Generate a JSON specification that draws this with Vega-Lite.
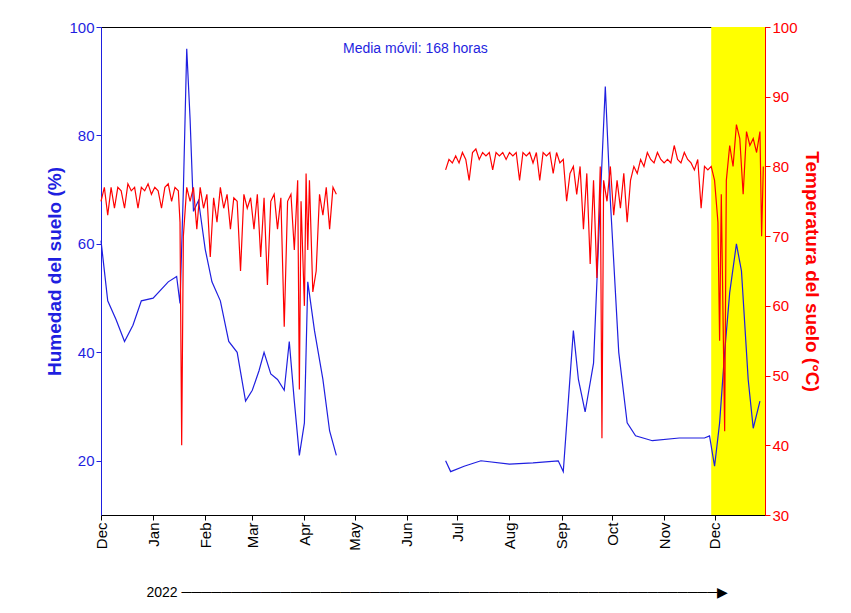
{
"$schema":"https://vega.github.io/schema/vega-lite/v6.json",
"width":664,"height":488,
"autosize":{"type":"none"},
"padding":{"left":101,"top":27,"right":86,"bottom":98},
"config":{"font":"Liberation Sans","view":{"stroke":"#000"},"axis":{"grid":false,"labelFontSize":15,"titleFontSize":19,"titleFontWeight":"bold"}},
"datasets":{
"hum":[
{"d":"2021-12-01","v":60.6},{"d":"2021-12-05","v":49.5},{"d":"2021-12-10","v":46},{"d":"2021-12-15","v":42},{"d":"2021-12-20","v":45},{"d":"2021-12-25","v":49.5},{"d":"2022-01-01","v":50},{"d":"2022-01-10","v":53},{"d":"2022-01-15","v":54},{"d":"2022-01-17","v":49},{"d":"2022-01-19","v":70},{"d":"2022-01-21","v":96},{"d":"2022-01-23","v":83},{"d":"2022-01-25","v":66},{"d":"2022-01-28","v":68},{"d":"2022-02-01","v":59},{"d":"2022-02-05","v":53},{"d":"2022-02-10","v":49.5},{"d":"2022-02-15","v":42},{"d":"2022-02-20","v":40},{"d":"2022-02-25","v":31},{"d":"2022-03-01","v":33},{"d":"2022-03-05","v":36.6},{"d":"2022-03-08","v":40},{"d":"2022-03-12","v":36},{"d":"2022-03-16","v":35},{"d":"2022-03-20","v":33},{"d":"2022-03-23","v":42},{"d":"2022-03-26","v":31},{"d":"2022-03-29","v":21},{"d":"2022-04-01","v":27},{"d":"2022-04-03","v":53},{"d":"2022-04-07","v":44},{"d":"2022-04-12","v":35},{"d":"2022-04-16","v":25.5},{"d":"2022-04-20","v":21},
{"d":"2022-05-20","v":null},
{"d":"2022-06-24","v":20},{"d":"2022-06-27","v":18},{"d":"2022-07-05","v":19},{"d":"2022-07-15","v":20},{"d":"2022-08-01","v":19.4},{"d":"2022-08-15","v":19.6},{"d":"2022-08-30","v":20},{"d":"2022-09-02","v":18},{"d":"2022-09-05","v":31},{"d":"2022-09-08","v":44},{"d":"2022-09-11","v":35},{"d":"2022-09-15","v":29},{"d":"2022-09-20","v":38},{"d":"2022-09-24","v":68},{"d":"2022-09-27","v":89},{"d":"2022-09-30","v":68},{"d":"2022-10-05","v":40},{"d":"2022-10-10","v":27},{"d":"2022-10-15","v":24.6},{"d":"2022-10-25","v":23.7},{"d":"2022-11-10","v":24.2},{"d":"2022-11-25","v":24.2},{"d":"2022-11-28","v":24.6},{"d":"2022-12-01","v":19},{"d":"2022-12-04","v":27},{"d":"2022-12-07","v":40},{"d":"2022-12-10","v":51},{"d":"2022-12-14","v":60},{"d":"2022-12-17","v":55},{"d":"2022-12-21","v":35},{"d":"2022-12-24","v":26},{"d":"2022-12-28","v":31}
],
"temp":[
{"d":"2021-12-01","t":75},{"d":"2021-12-03","t":77},{"d":"2021-12-05","t":73},{"d":"2021-12-07","t":77},{"d":"2021-12-09","t":74},{"d":"2021-12-11","t":77},{"d":"2021-12-13","t":76.5},{"d":"2021-12-15","t":74},{"d":"2021-12-17","t":77.5},{"d":"2021-12-19","t":76.5},{"d":"2021-12-21","t":77},{"d":"2021-12-23","t":74},{"d":"2021-12-25","t":77},{"d":"2021-12-27","t":76.5},{"d":"2021-12-29","t":77.5},{"d":"2021-12-31","t":76},{"d":"2022-01-02","t":77},{"d":"2022-01-04","t":76.5},{"d":"2022-01-06","t":74},{"d":"2022-01-08","t":77},{"d":"2022-01-10","t":77.5},{"d":"2022-01-12","t":75},{"d":"2022-01-14","t":77},{"d":"2022-01-16","t":76.5},{"d":"2022-01-17","t":72},{"d":"2022-01-18","t":40},{"d":"2022-01-19","t":70},{"d":"2022-01-21","t":77},{"d":"2022-01-23","t":75},{"d":"2022-01-25","t":77},{"d":"2022-01-27","t":71},{"d":"2022-01-29","t":77},{"d":"2022-01-31","t":74},{"d":"2022-02-02","t":76},{"d":"2022-02-04","t":67},{"d":"2022-02-06","t":75.5},{"d":"2022-02-08","t":72},{"d":"2022-02-10","t":77},{"d":"2022-02-12","t":74},{"d":"2022-02-14","t":76},{"d":"2022-02-16","t":71},{"d":"2022-02-18","t":75.5},{"d":"2022-02-20","t":75},{"d":"2022-02-22","t":65},{"d":"2022-02-24","t":76},{"d":"2022-02-26","t":74},{"d":"2022-02-28","t":75.5},{"d":"2022-03-02","t":71},{"d":"2022-03-04","t":76},{"d":"2022-03-06","t":67},{"d":"2022-03-08","t":75.5},{"d":"2022-03-10","t":63},{"d":"2022-03-12","t":75},{"d":"2022-03-14","t":76},{"d":"2022-03-16","t":71},{"d":"2022-03-18","t":75.5},{"d":"2022-03-20","t":57},{"d":"2022-03-22","t":75},{"d":"2022-03-24","t":76},{"d":"2022-03-26","t":68},{"d":"2022-03-28","t":78},{"d":"2022-03-29","t":48},{"d":"2022-03-30","t":75},{"d":"2022-04-01","t":60},{"d":"2022-04-02","t":79},{"d":"2022-04-03","t":68},{"d":"2022-04-04","t":78},{"d":"2022-04-06","t":62},{"d":"2022-04-08","t":65},{"d":"2022-04-10","t":76},{"d":"2022-04-12","t":73},{"d":"2022-04-14","t":77},{"d":"2022-04-16","t":71},{"d":"2022-04-18","t":77},{"d":"2022-04-20","t":76},
{"d":"2022-05-20","t":null},
{"d":"2022-06-24","t":79.5},{"d":"2022-06-26","t":81},{"d":"2022-06-28","t":80.5},{"d":"2022-06-30","t":81.5},{"d":"2022-07-02","t":80.5},{"d":"2022-07-04","t":82},{"d":"2022-07-06","t":81},{"d":"2022-07-08","t":78},{"d":"2022-07-10","t":82},{"d":"2022-07-12","t":82.5},{"d":"2022-07-14","t":81},{"d":"2022-07-16","t":82},{"d":"2022-07-18","t":81.5},{"d":"2022-07-20","t":82},{"d":"2022-07-22","t":79.5},{"d":"2022-07-24","t":82},{"d":"2022-07-26","t":81.5},{"d":"2022-07-28","t":82},{"d":"2022-07-30","t":81},{"d":"2022-08-01","t":82},{"d":"2022-08-03","t":81.5},{"d":"2022-08-05","t":82},{"d":"2022-08-07","t":78},{"d":"2022-08-09","t":82},{"d":"2022-08-11","t":81.5},{"d":"2022-08-13","t":82},{"d":"2022-08-15","t":80.5},{"d":"2022-08-17","t":82},{"d":"2022-08-19","t":78},{"d":"2022-08-21","t":82},{"d":"2022-08-23","t":81.5},{"d":"2022-08-25","t":82},{"d":"2022-08-27","t":79},{"d":"2022-08-29","t":82},{"d":"2022-08-31","t":80.5},{"d":"2022-09-02","t":81},{"d":"2022-09-04","t":75},{"d":"2022-09-06","t":79},{"d":"2022-09-08","t":80},{"d":"2022-09-10","t":76},{"d":"2022-09-12","t":80},{"d":"2022-09-14","t":71},{"d":"2022-09-16","t":79},{"d":"2022-09-18","t":66},{"d":"2022-09-20","t":78},{"d":"2022-09-22","t":64},{"d":"2022-09-24","t":80},{"d":"2022-09-25","t":41},{"d":"2022-09-26","t":78},{"d":"2022-09-28","t":75},{"d":"2022-09-30","t":80},{"d":"2022-10-02","t":73},{"d":"2022-10-04","t":78},{"d":"2022-10-06","t":74},{"d":"2022-10-08","t":79},{"d":"2022-10-10","t":72},{"d":"2022-10-12","t":78},{"d":"2022-10-14","t":80},{"d":"2022-10-16","t":79},{"d":"2022-10-18","t":81},{"d":"2022-10-20","t":80},{"d":"2022-10-22","t":82},{"d":"2022-10-24","t":81},{"d":"2022-10-26","t":80.5},{"d":"2022-10-28","t":82},{"d":"2022-10-30","t":81},{"d":"2022-11-01","t":80.5},{"d":"2022-11-03","t":81},{"d":"2022-11-05","t":80.5},{"d":"2022-11-07","t":83},{"d":"2022-11-09","t":81},{"d":"2022-11-11","t":80.5},{"d":"2022-11-13","t":82},{"d":"2022-11-15","t":81},{"d":"2022-11-17","t":80.5},{"d":"2022-11-19","t":79.5},{"d":"2022-11-21","t":81},{"d":"2022-11-23","t":74},{"d":"2022-11-25","t":80},{"d":"2022-11-27","t":79.5},{"d":"2022-11-29","t":80},{"d":"2022-12-01","t":78},{"d":"2022-12-03","t":72},{"d":"2022-12-04","t":55},{"d":"2022-12-05","t":76},{"d":"2022-12-07","t":42},{"d":"2022-12-08","t":78},{"d":"2022-12-10","t":83},{"d":"2022-12-12","t":80},{"d":"2022-12-14","t":86},{"d":"2022-12-16","t":84},{"d":"2022-12-18","t":76},{"d":"2022-12-20","t":85},{"d":"2022-12-22","t":83},{"d":"2022-12-24","t":84},{"d":"2022-12-26","t":82},{"d":"2022-12-28","t":85},{"d":"2022-12-29","t":70},{"d":"2022-12-30","t":80}
],
"band":[{"a":"2022-11-29","b":"2022-12-31"}]
},
"resolve":{"scale":{"y":"independent"}},
"layer":[
{"data":{"name":"band"},"mark":{"type":"rect","color":"#ffff00"},
 "encoding":{"x":{"field":"a","type":"temporal","scale":{"type":"utc","domain":["2021-12-01","2022-12-31"]},
   "axis":{"values":["2021-12-01","2022-01-01","2022-02-01","2022-03-01","2022-04-01","2022-05-01","2022-06-01","2022-07-01","2022-08-01","2022-09-01","2022-10-01","2022-11-01","2022-12-01"],"labelExpr":"utcFormat(datum.value,'%b')","labelAngle":-90,"labelAlign":"right","labelBaseline":"middle","labelColor":"#000","domainColor":"#000","tickColor":"#000","title":"2022 ──────────────────────────────────────────────────────▶","titleFontWeight":"normal","titleFontSize":14,"titleAnchor":"start","titleX":45,"titleY":70}},
  "x2":{"field":"b"}}},
{"layer":[
 {"data":{"name":"hum"},"mark":{"type":"line","color":"#1f1fe0","strokeWidth":1.2,"invalid":"break-paths-show-domains"},
  "encoding":{"x":{"field":"d","type":"temporal"},
   "y":{"field":"v","type":"quantitative","scale":{"domain":[10,100]},"axis":{"values":[20,40,60,80,100],"title":"Humedad del suelo (%)","titleColor":"#1f1fe0","labelColor":"#1f1fe0","domainColor":"#1f1fe0","tickColor":"#1f1fe0"}}}},
 {"data":{"values":[{"d":"2022-06-06","y":96,"s":"Media móvil: 168 horas"}]},"mark":{"type":"text","color":"#1f1fe0","fontSize":14},
  "encoding":{"x":{"field":"d","type":"temporal"},"y":{"field":"y","type":"quantitative"},"text":{"field":"s"}}}
]},
{"data":{"name":"temp"},"mark":{"type":"line","color":"#ff0000","strokeWidth":1.2,"invalid":"break-paths-show-domains"},
 "encoding":{"x":{"field":"d","type":"temporal"},
  "y":{"field":"t","type":"quantitative","scale":{"domain":[30,100]},"axis":{"orient":"right","values":[30,40,50,60,70,80,90,100],"title":"Temperatura del suelo (°C)","titleColor":"#ff0000","labelColor":"#ff0000","domainColor":"#ff0000","tickColor":"#ff0000"}}}}
]
}
